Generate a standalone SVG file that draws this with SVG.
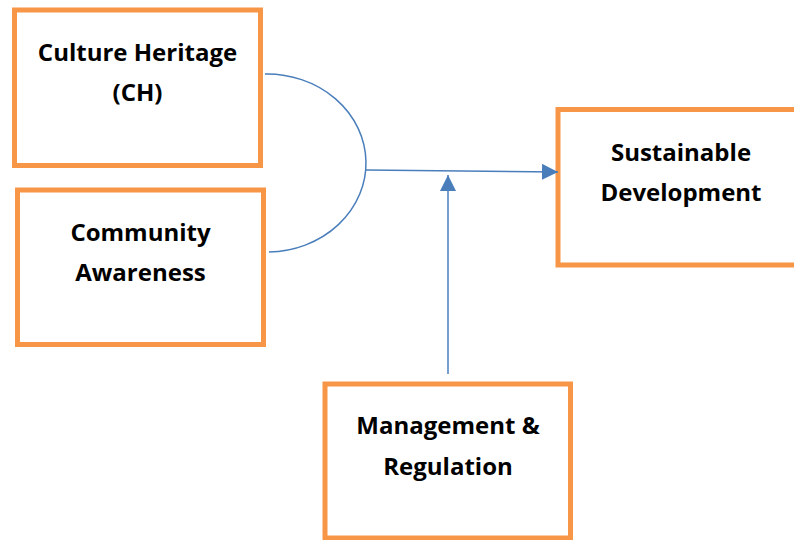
<svg xmlns="http://www.w3.org/2000/svg" width="794" height="540" viewBox="0 0 794 540">
<defs>
<style>
.box{fill:#fff;stroke:#F79646;stroke-width:5}
.lbl{font-family:"Open Sans","Liberation Sans",sans-serif;font-weight:bold;font-size:24px;fill:#000;text-anchor:middle}
.con{fill:none;stroke:#4A7EBB;stroke-width:1.5}
</style>
<marker id="arr" viewBox="0 0 16 16" refX="16" refY="8" markerWidth="16" markerHeight="16" markerUnits="userSpaceOnUse" orient="auto">
<path d="M0,0 L16,8 L0,16 Z" fill="#4A7EBB"/>
</marker>
</defs>
<rect width="794" height="540" fill="#fff"/>
<g id="ch">
<rect class="box" x="14.5" y="10" width="246" height="155.5"/>
<text class="lbl" x="137.5" y="61">Culture Heritage</text>
<text class="lbl" x="137.5" y="101">(CH)</text>
</g>
<g id="ca">
<rect class="box" x="17.5" y="190" width="246" height="154.5"/>
<text class="lbl" x="140.5" y="241">Community</text>
<text class="lbl" x="140.5" y="281">Awareness</text>
</g>
<g id="sd">
<rect class="box" x="558" y="109.5" width="250" height="155.5"/>
<text class="lbl" x="681" y="161">Sustainable</text>
<text class="lbl" x="681" y="201">Development</text>
</g>
<g id="mr">
<rect class="box" x="325" y="384" width="245.5" height="154"/>
<text class="lbl" x="448" y="434">Management &amp;</text>
<text class="lbl" x="448" y="475">Regulation</text>
</g>
<g id="connectors">
<path class="con" d="M265,74 A99 89 0 0 1 269,252"/>
<path class="con" d="M366,170 L558,172" marker-end="url(#arr)"/>
<path class="con" d="M448,374 L448,175" marker-end="url(#arr)"/>
</g>
</svg>
